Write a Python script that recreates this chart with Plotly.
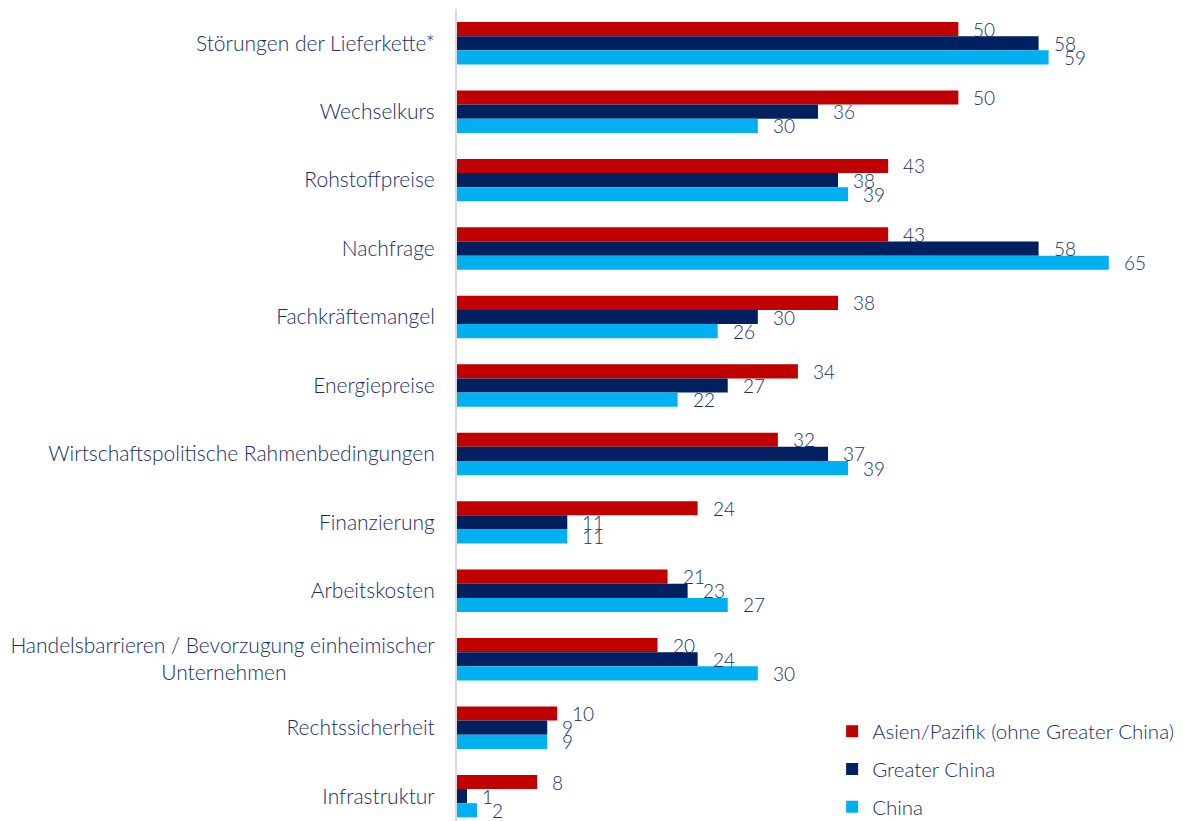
import plotly.graph_objects as go

categories = [
    "Störungen der Lieferkette*",
    "Wechselkurs",
    "Rohstoffpreise",
    "Nachfrage",
    "Fachkräftemangel",
    "Energiepreise",
    "Wirtschaftspolitische Rahmenbedingungen",
    "Finanzierung",
    "Arbeitskosten",
    "Handelsbarrieren / Bevorzugung einheimischer<br>Unternehmen" + "\u00a0" * 26,
    "Rechtssicherheit",
    "Infrastruktur",
]
series_names = ["Asien/Pazifik (ohne Greater China)", "Greater China", "China"]
asien_pazifik = [50, 50, 43, 43, 38, 34, 32, 24, 21, 20, 10, 8]
greater_china = [58, 36, 38, 58, 30, 27, 37, 11, 23, 24, 9, 1]
china = [59, 30, 39, 65, 26, 22, 39, 11, 27, 30, 9, 2]

colors = ["#C00000", "#002060", "#00B0F0"]
text_color = "#172E6B"
FONT = "Lato"

fig = go.Figure()
all_series = [asien_pazifik, greater_china, china]
for i, (name, vals) in enumerate(zip(series_names, all_series)):
    fig.add_trace(go.Bar(
        y=categories, x=vals, name=name, orientation="h",
        marker=dict(color=colors[i], line=dict(width=0)),
        legendgroup=f"g{i}",
    ))

bargap = 0.38
w = (1 - bargap) / 3
annotations = []
for i, vals in enumerate(all_series):
    for j, v in enumerate(vals):
        annotations.append(dict(
            x=v, y=j + (i - 1) * w, xref="x", yref="y",
            text=str(v), showarrow=False, xanchor="left", yanchor="middle",
            xshift=13, font=dict(family=FONT, size=19, color=text_color, weight=300),
        ))

fig.update_layout(
    width=1186, height=821,
    margin=dict(l=449, r=0, t=1, b=0),
    paper_bgcolor="white", plot_bgcolor="white",
    barmode="group", bargap=bargap, bargroupgap=0,
    font=dict(family=FONT, size=21, color=text_color, weight=300),
    showlegend=True,
    legend=dict(
        x=0.509, y=0.003, xanchor="left", yanchor="bottom",
        font=dict(family=FONT, size=20.5, color=text_color, weight=300),
        tracegroupgap=8, bgcolor="rgba(0,0,0,0)",
    ),
    annotations=annotations,
    xaxis=dict(range=[0, 73.5], showgrid=False, zeroline=False,
               showticklabels=False, showline=False),
    yaxis=dict(range=[11.48, -0.5], showgrid=False, zeroline=False,
               showline=True, linecolor="#D9D9D9", linewidth=2,
               ticks="", ticklabelstandoff=16,
               tickfont=dict(family=FONT, size=21, color=text_color, weight=300)),
)

fig.write_html("out.html")
